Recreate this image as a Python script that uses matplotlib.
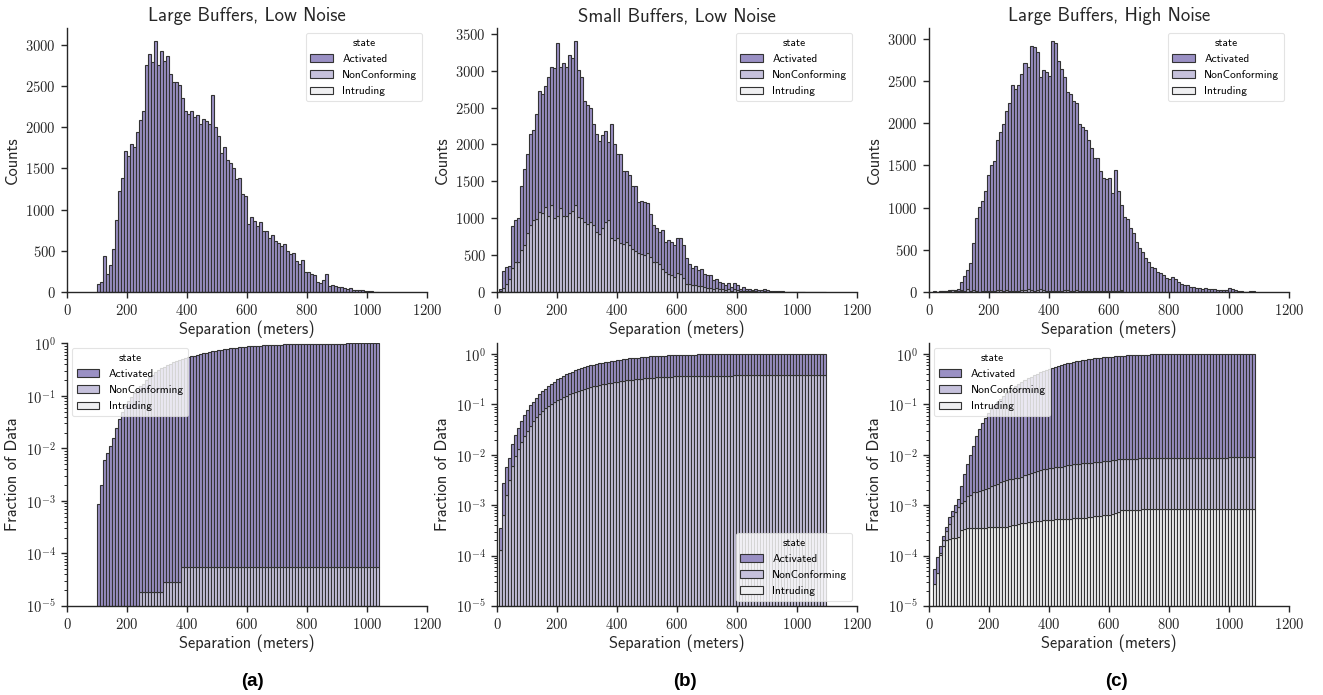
"""Separation histograms per buffer/noise setting, counts on top and
stacked cumulative fraction (log) underneath."""
import numpy as np
import matplotlib
matplotlib.use("Agg")
import matplotlib.pyplot as plt
from matplotlib.patches import Patch
from matplotlib.ticker import FuncFormatter, MultipleLocator, LogLocator, NullFormatter

plt.rcParams["font.family"] = ["cmss10", "DejaVu Sans"]
plt.rcParams["mathtext.fontset"] = "cm"
plt.rcParams["axes.unicode_minus"] = False

ACTIVATED = "#9a90c4"
NONCONF = "#c6c1dc"
INTRUDING = "#efeff1"
EDGE = "#333333"
INK = "#262626"

STATES = ["Activated", "NonConforming", "Intruding"]
TITLES = ["Large Buffers, Low Noise", "Small Buffers, Low Noise", "Large Buffers, High Noise"]
CAPTIONS = ["(a)", "(b)", "(c)"]
BIN_W = 10

# (a) Large Buffers, Low Noise -- bins of 10 m from 100 m
a_start = 100
a_total = [93, 118, 431, 215, 329, 524, 874, 1224, 1386, 1711,
           1646, 1790, 1760, 1945, 2090, 2195, 2755, 2890, 2790, 3050,
           2756, 2919, 2800, 2860, 2640, 2545, 2545, 2512, 2354, 2190,
           2159, 2199, 2118, 2146, 2037, 2098, 2077, 2037, 2394,
           2004, 1894, 1691, 1760, 1602, 1569, 1500, 1366, 1378, 1183, 1163,
           825, 910, 858, 797, 845, 736, 745, 654, 695, 622,
           593, 561, 581, 500, 459, 472, 370, 337, 390, 240,
           240, 220, 207, 126, 106, 146, 215,
           70, 80, 75, 60, 55, 45, 40, 45, 30, 30, 25, 20, 15, 10, 8, 5, 3]
a_nc_bins = [240, 320, 380]
a_nc_counts = [2, 1, 3]

# (b) Small Buffers, Low Noise -- bins from 8 m
b_start = 8
b_total = [40, 280, 340, 350, 900, 977, 1000, 1432, 1673, 1873,
           2145, 2190, 2409, 2727, 2681, 2795, 2909, 3045, 3036, 3372,
           3045, 3109, 3045, 3218, 3172, 3409, 3009, 2909, 2591, 2532,
           2491, 2282, 2145, 2045, 2123, 2182, 2032, 2282, 2000, 1873,
           1873, 1636, 1636, 1591, 1441, 1441, 1227, 1236, 1227, 1205,
           1055, 909, 864, 818, 840, 680, 705, 673, 636, 727,
           727, 636, 455, 386, 332, 350, 295, 318, 250, 227,
           227, 160, 180, 136, 127, 100, 127, 68, 127, 91,
           45, 64, 45, 36, 32, 36, 23, 23, 45, 23, 15,
           10, 10, 8, 8, 5, 5, 5, 5, 5, 3, 3, 3, 3, 3, 3, 2, 2, 2]
b_nonconf = [15, 60, 110, 180, 330, 400, 409, 568, 636, 795,
             909, 977, 990, 1090, 1068, 1159, 1036, 1182, 1009, 1032,
             1136, 1036, 1036, 1068, 1100, 1182, 1023, 1000, 954, 918,
             954, 909, 809, 782, 873, 954, 977, 727, 705, 727,
             659, 645, 680, 636, 582, 555, 523, 510, 500, 532,
             477, 409, 400, 373, 318, 273, 250, 227, 205, 264,
             250, 191, 114, 114, 91, 100, 80, 85, 68, 60,
             60, 45, 50, 36, 34, 27, 34, 18, 34, 24,
             12, 17, 12, 10, 9, 10, 6, 6, 12, 6, 4,
             3, 3, 2, 2, 1, 1, 1, 1, 1, 1, 1, 0, 0, 0, 0, 0, 0, 0]

# (c) Large Buffers, High Noise -- bins from 15 m
c_start = 15
c_total = [6, 4, 7, 10, 14, 22, 20, 27, 36,
           119, 190, 266, 349, 583, 881, 1012, 1083, 1190, 1381,
           1508, 1555, 1794, 1897, 1992, 2143, 2238, 2448, 2401, 2452,
           2579, 2710, 2659, 2917, 2897, 2837, 2548, 2627, 2599, 2559,
           2976, 2948, 2738, 2639, 2540, 2373, 2341, 2262, 2238, 1984,
           1956, 1913, 1805, 1700, 1587, 1587, 1428, 1349, 1337, 1349,
           1171, 1448, 1190, 1032, 893, 861, 754, 694, 595, 516, 476,
           400, 360, 300, 280, 240, 220, 200, 170, 150, 175,
           150, 120, 100, 80, 85, 65, 55, 50, 45, 40,
           45, 35, 30, 30, 25, 20, 20, 25, 45, 35,
           25, 10, 8, 5, 5, 10, 8]
c_nonconf = [0, 0, 1, 4, 6, 13, 17, 16, 16, 12,
             9, 32, 10, 22, 5, 5, 11, 11, 10, 16,
             16, 18, 17, 17, 20, 9, 6, 7, 12, 17,
             26, 29, 19, 14, 24, 29, 19, 10, 8, 11,
             9, 10, 11, 18, 17, 17, 14, 19, 8, 8,
             9, 8, 7, 8, 7, 14, 11, 13, 14, 12,
             11, 10, 14, 4, 3, 3, 3, 2, 3, 2, 2, 2,
             2, 2, 2, 2, 2, 2, 1, 2, 1, 2,
             1, 1, 1, 1, 1, 1, 1, 1, 1, 1, 1, 1, 1, 1, 1, 1, 1, 1, 1, 1, 1, 1, 1, 1, 1]
c_intrud = [3, 2, 6, 6, 5, 1, 1, 0, 1, 10,
            2, 1, 0, 0, 1, 0, 0, 0, 1, 0,
            0, 0, 1, 0, 0, 1, 2, 1, 2, 1,
            1, 1, 1, 1, 1, 1, 1, 0, 1, 0,
            1, 0, 1, 0, 1, 0, 1, 0, 1, 1,
            0, 1, 1, 1, 1, 1, 1, 0, 1, 3,
            4, 5, 6, 1, 0, 0, 1, 0, 0, 1] + [0] * 37


def style_axes(ax):
    for side in ("top", "right"):
        ax.spines[side].set_visible(False)
    for side in ("left", "bottom"):
        ax.spines[side].set_color(INK)
        ax.spines[side].set_linewidth(1.0)
    ax.tick_params(colors=INK, labelsize=10.5, length=4.5, width=1.0, direction="out")
    ax.tick_params(which="minor", length=2.5, width=0.7, colors=INK)
    ax.set_xlim(0, 1200)
    ax.xaxis.set_major_locator(MultipleLocator(200))
    ax.xaxis.set_major_formatter(FuncFormatter(lambda v, p: f"${v:.0f}$"))


def add_legend(ax, loc):
    handles = [Patch(facecolor=c, edgecolor=EDGE, linewidth=0.8)
               for c in (ACTIVATED, NONCONF, INTRUDING)]
    leg = ax.legend(handles, STATES, title="state", loc=loc, fontsize=8.2,
                    title_fontsize=8.2, framealpha=0.8, edgecolor="#dddddd",
                    borderaxespad=0.45, handlelength=2.0, handleheight=0.7,
                    labelspacing=0.55)
    leg.get_frame().set_linewidth(0.8)


def draw_panel(ax_top, ax_bot, start, total, nonconf, intrud, title, legend_loc):
    total = np.asarray(total, float)
    nc = np.asarray(nonconf, float)
    it = np.asarray(intrud, float)
    act = total - nc - it
    edges = start + BIN_W * np.arange(len(total))
    layers = [(it, INTRUDING), (nc, NONCONF), (act, ACTIVATED)]

    base = np.zeros_like(total)
    for h, col in layers:
        m = h > 0
        ax_top.bar(edges[m], h[m], BIN_W, bottom=base[m], align="edge",
                   color=col, edgecolor=EDGE, linewidth=0.8)
        base = base + h

    n = total.sum()
    base = np.zeros_like(total)
    for h, col in layers:
        c = np.cumsum(h) / n
        m = c > 0
        ax_bot.bar(edges[m], c[m], BIN_W, bottom=base[m], align="edge",
                   color=col, edgecolor=EDGE, linewidth=0.8)
        base = base + c

    style_axes(ax_top)
    style_axes(ax_bot)
    ax_top.set_title(title, fontsize=13.5, color=INK, pad=5)
    ax_top.yaxis.set_major_locator(MultipleLocator(500))
    ax_top.yaxis.set_major_formatter(FuncFormatter(lambda v, p: f"${v:.0f}$"))
    ax_top.set_ylabel("Counts", fontsize=11.8, color=INK)
    ax_top.set_xlabel("Separation (meters)", fontsize=11.8, color=INK, labelpad=2)
    add_legend(ax_top, "upper right")

    ax_bot.set_yscale("log")
    ax_bot.yaxis.set_major_locator(LogLocator(base=10))
    ax_bot.yaxis.set_minor_locator(LogLocator(base=10, subs=np.arange(2, 10)))
    ax_bot.yaxis.set_minor_formatter(NullFormatter())
    ax_bot.yaxis.set_major_formatter(
        FuncFormatter(lambda v, p: f"$10^{{{int(round(np.log10(v)))}}}$"))
    ax_bot.set_ylabel("Fraction of Data", fontsize=11.8, color=INK)
    ax_bot.set_xlabel("Separation (meters)", fontsize=11.8, color=INK, labelpad=2)
    add_legend(ax_bot, legend_loc)


def main():
    fig = plt.figure(figsize=(13.23, 6.95), dpi=100)
    lefts = [67 / 1323, 497 / 1323, 929 / 1323]
    w = 360 / 1323
    top_axes = [fig.add_axes([l, 403 / 695, w, 264 / 695]) for l in lefts]
    bot_axes = [fig.add_axes([l, 89 / 695, w, 263 / 695]) for l in lefts]

    a_nc = np.zeros(len(a_total))
    for b, c in zip(a_nc_bins, a_nc_counts):
        a_nc[(b - a_start) // BIN_W] = c

    draw_panel(top_axes[0], bot_axes[0], a_start, a_total, a_nc,
               np.zeros(len(a_total)), TITLES[0], "upper left")
    draw_panel(top_axes[1], bot_axes[1], b_start, b_total, b_nonconf,
               np.zeros(len(b_total)), TITLES[1], "lower right")
    draw_panel(top_axes[2], bot_axes[2], c_start, c_total, c_nonconf,
               c_intrud, TITLES[2], "upper left")

    bot_axes[0].set_ylim(1e-5, 1.02)
    bot_axes[1].set_ylim(1e-5, 1.65)
    bot_axes[2].set_ylim(1e-5, 1.65)

    for x, cap in zip([252, 685, 1116], CAPTIONS):
        fig.text(x / 1323, 1 - 681 / 695, cap, ha="center", va="center",
                 fontsize=13.5, fontweight="bold", family="Liberation Sans", color="black")

    fig.savefig("out.png", dpi=100, facecolor="white")
    plt.close(fig)


if __name__ == "__main__":
    main()
